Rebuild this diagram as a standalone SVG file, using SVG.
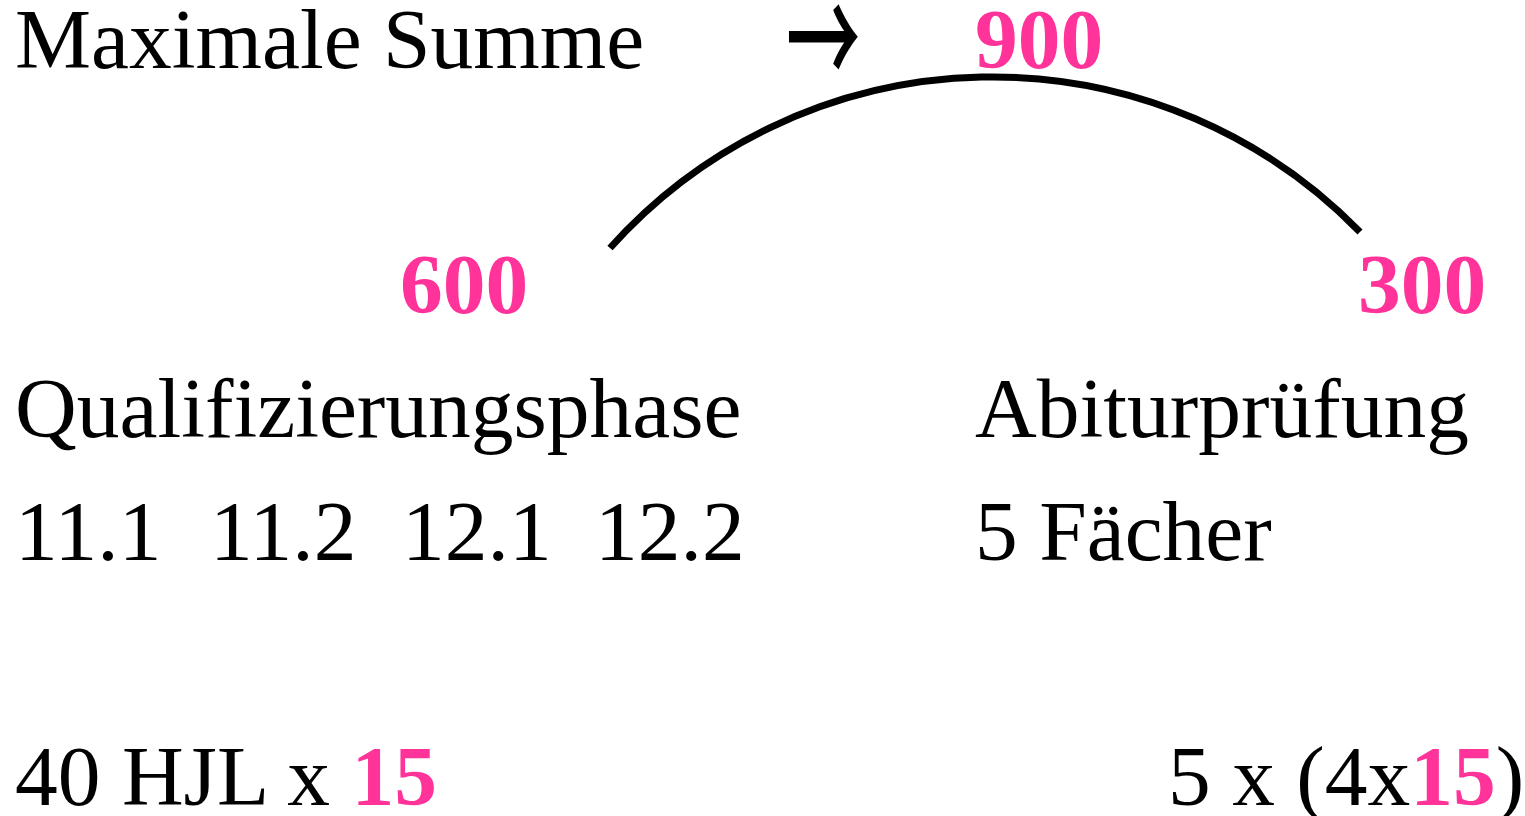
<svg xmlns="http://www.w3.org/2000/svg" width="1525" height="816" viewBox="0 0 1525 816">
<style>
text{font-family:"Liberation Serif","Times New Roman",serif;font-size:85.5px;fill:#000}
.p{fill:#FF3399;font-weight:bold}
.arc{fill:none;stroke:#000;stroke-width:7}
</style>
<rect width="1525" height="816" fill="#fff"/>
<g id="title">
<text x="15" y="68">Maximale Summe</text>
<text transform="translate(786,88.6) scale(0.93,1.72)" x="0" y="0" style="font-family:'Noto Sans CJK SC',sans-serif;font-size:80px;font-weight:500">→</text>
</g>
<g id="total"><text class="p" x="975" y="68">900</text></g>
<g id="connectors"><path class="arc" d="M610,248 A513,513 0 0 1 1360,232"/></g>
<g id="q-phase">
<text class="p" x="400" y="313">600</text>
<text x="15" y="437">Qualifizierungsphase</text>
<text y="560"><tspan x="15">11.1</tspan><tspan x="210">11.2</tspan><tspan x="402">12.1</tspan><tspan x="595">12.2</tspan></text>
<text x="15" y="805">40 HJL x <tspan class="p">15</tspan></text>
</g>
<g id="abitur">
<text class="p" x="1358" y="313">300</text>
<text x="975" y="437">Abiturprüfung</text>
<text x="975" y="560">5 Fächer</text>
<text x="1168" y="805">5 x (4x<tspan class="p">15</tspan>)</text>
</g>
</svg>
